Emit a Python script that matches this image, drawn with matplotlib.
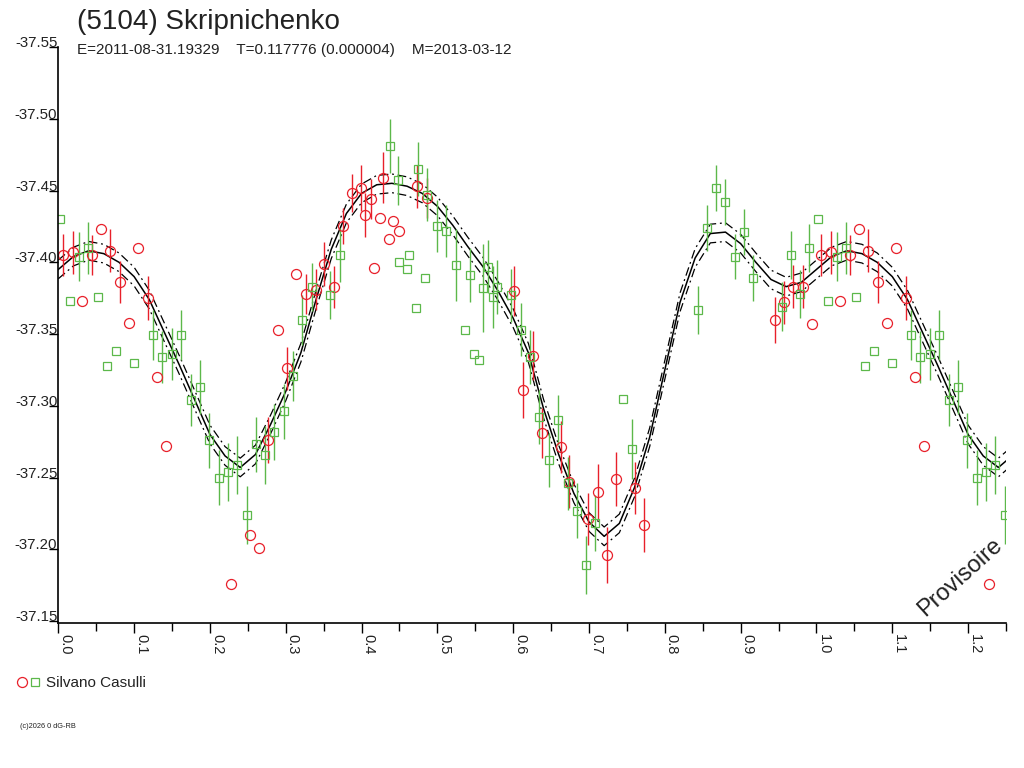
import numpy as np
import matplotlib.pyplot as plt
from matplotlib.legend_handler import HandlerTuple

plt.rcParams['font.family'] = ['Liberation Sans', 'DejaVu Sans']

# ============================================================
# DATA - phase folded observations (Silvano Casulli)
# ============================================================

TITLE = "(5104) Skripnichenko"
SUBTITLE = "E=2011-08-31.19329    T=0.117776 (0.000004)    M=2013-03-12"
OBSERVER = "Silvano Casulli"

# red circles
red_phase = [0.0066, 0.0198, 0.0440, 0.0563, 0.0682, 0.0814, 0.1047, 0.0316,
             0.1179, 0.0932, 0.1298, 0.1416, 0.2277, 0.2528, 0.2651, 0.2769,
             0.2893, 0.3139, 0.3020, 0.3267, 0.3394, 0.3508, 0.3636, 0.3750,
             0.3877, 0.3996, 0.4120, 0.4045, 0.4242, 0.4410, 0.4489, 0.4365,
             0.4167, 0.4286, 0.4734, 0.4858, 0.6006, 0.6256, 0.6132, 0.6375,
             0.6625, 0.6739, 0.6989, 0.7113, 0.7236, 0.7359, 0.7605, 0.7728,
             0.9451, 0.9574, 0.9693, 0.9817, 0.9943]
red_mag = [-37.405, -37.407, -37.405, -37.423, -37.408, -37.386, -37.410, -37.373,
           -37.375, -37.358, -37.320, -37.272, -37.176, -37.210, -37.201, -37.276,
           -37.353, -37.392, -37.326, -37.378, -37.381, -37.399, -37.383, -37.425,
           -37.448, -37.452, -37.444, -37.433, -37.431, -37.429, -37.422, -37.416,
           -37.396, -37.459, -37.453, -37.445, -37.380, -37.335, -37.311, -37.281,
           -37.271, -37.247, -37.221, -37.240, -37.196, -37.249, -37.243, -37.217,
           -37.360, -37.372, -37.383, -37.383, -37.357]
red_err = [0.0146, 0.0150, 0.0139, 0.0, 0.0151, 0.0146, 0.0, 0.0,
           0.0152, 0.0, 0.0, 0.0, 0.0, 0.0, 0.0, 0.0160,
           0.0, 0.0, 0.0151, 0.0139, 0.0146, 0.0153, 0.0146, 0.0125,
           0.0132, 0.0160, 0.0139, 0.0153, 0.0, 0.0, 0.0, 0.0,
           0.0, 0.0178, 0.0151, 0.0139, 0.0174, 0.0174, 0.0192, 0.0171,
           0.0181, 0.0186, 0.0181, 0.0195, 0.0195, 0.0188, 0.0181, 0.0186,
           0.0160, 0.0151, 0.0151, 0.0151, 0.0]

# green squares
green_phase = [0.0022, 0.0273, 0.0396, 0.0154, 0.0520, 0.1253, 0.1371, 0.1495,
               0.1618, 0.0761, 0.0638, 0.1002, 0.1746, 0.1869, 0.1991, 0.2115,
               0.2238, 0.2361, 0.2485, 0.2603, 0.2730, 0.2848, 0.2972, 0.3091,
               0.3210, 0.3342, 0.3583, 0.3715, 0.4378, 0.4747, 0.4476, 0.4866,
               0.4497, 0.4625, 0.4598, 0.4840, 0.4721, 0.4990, 0.5117, 0.5245,
               0.5425, 0.5363, 0.5486, 0.5548, 0.5605, 0.5671, 0.5729, 0.5789,
               0.5970, 0.6098, 0.6220, 0.6343, 0.6586, 0.6467, 0.6718, 0.6836,
               0.7078, 0.6959, 0.7443, 0.7570, 0.8432, 0.8551, 0.8673, 0.8796,
               0.9043, 0.8924, 0.9165, 0.9540, 0.9662, 0.9781, 0.9900]
green_mag = [-37.430, -37.404, -37.410, -37.373, -37.376, -37.349, -37.334, -37.336,
             -37.349, -37.338, -37.328, -37.330, -37.304, -37.313, -37.276, -37.250,
             -37.254, -37.259, -37.224, -37.273, -37.266, -37.282, -37.296, -37.321,
             -37.360, -37.383, -37.377, -37.405, -37.481, -37.465, -37.457, -37.447,
             -37.400, -37.405, -37.395, -37.389, -37.368, -37.425, -37.422, -37.398,
             -37.391, -37.353, -37.336, -37.332, -37.382, -37.397, -37.376, -37.383,
             -37.377, -37.353, -37.334, -37.292, -37.290, -37.262, -37.246, -37.227,
             -37.218, -37.189, -37.305, -37.270, -37.367, -37.424, -37.452, -37.442,
             -37.421, -37.404, -37.389, -37.369, -37.405, -37.378, -37.410]
green_err = [0.0, 0.0171, 0.0179, 0.0, 0.0, 0.0174, 0.0181, 0.0181,
             0.0174, 0.0, 0.0, 0.0, 0.0181, 0.0186, 0.0192, 0.0192,
             0.0202, 0.0202, 0.0202, 0.0195, 0.0202, 0.0195, 0.0192, 0.0174,
             0.0174, 0.0167, 0.0167, 0.0188, 0.0188, 0.0186, 0.0171, 0.0186,
             0.0, 0.0, 0.0, 0.0, 0.0, 0.0181, 0.0181, 0.0251,
             0.0186, 0.0, 0.0, 0.0, 0.0307, 0.0186, 0.0216, 0.0188,
             0.0186, 0.0183, 0.0185, 0.0188, 0.0174, 0.0188, 0.0186, 0.0192,
             0.0195, 0.0202, 0.0, 0.0209, 0.0167, 0.0162, 0.0160, 0.0162,
             0.0162, 0.0160, 0.0162, 0.0171, 0.0167, 0.0167, 0.0167]

# fitted lightcurve, one full rotation
curve_phase = [0.00, 0.02, 0.04, 0.06, 0.08, 0.10, 0.12, 0.14, 0.16, 0.18,
               0.20, 0.22, 0.24, 0.26, 0.28, 0.30, 0.32, 0.34, 0.36, 0.38,
               0.40, 0.42, 0.44, 0.46, 0.48, 0.50, 0.52, 0.54, 0.56, 0.58,
               0.60, 0.62, 0.64, 0.66, 0.68, 0.70, 0.72, 0.74, 0.76, 0.78,
               0.80, 0.82, 0.84, 0.86, 0.88, 0.90, 0.92, 0.94, 0.96, 0.98, 1.00]
curve_mag = [-37.395, -37.404, -37.408, -37.406, -37.400, -37.390, -37.374, -37.351,
             -37.328, -37.304, -37.280, -37.265, -37.257, -37.266, -37.287, -37.310,
             -37.337, -37.374, -37.409, -37.434, -37.448, -37.454, -37.455, -37.453,
             -37.448, -37.439, -37.426, -37.411, -37.397, -37.380, -37.361, -37.337,
             -37.298, -37.266, -37.239, -37.219, -37.209, -37.218, -37.243, -37.278,
             -37.325, -37.372, -37.403, -37.420, -37.421, -37.413, -37.400, -37.388,
             -37.383, -37.386, -37.395]
curve_band = 0.0065

PHASE_MAX = 1.25


def wrap(phase, *cols, limit=PHASE_MAX + 0.02):
    # repeat the start of the rotation after phase 1.0
    ph = np.asarray(phase)
    keep = ph + 1.0 <= limit
    out = [np.concatenate([ph, ph[keep] + 1.0])]
    for c in cols:
        c = np.asarray(c)
        out.append(np.concatenate([c, c[keep]]))
    return out


# ============================================================
# PLOT
# ============================================================

RED = '#e8202a'
GREEN = '#5cb84a'
TXT = '#222222'

fig = plt.figure(figsize=(10.24, 7.68), dpi=100)
ax = fig.add_axes([58.3 / 1024, (768 - 623.3) / 768,
                   (1006 - 58.3) / 1024, (623.3 - 47) / 768])

cph, cmag = wrap(curve_phase[:-1], curve_mag[:-1])
ax.plot(cph, cmag, color='black', lw=1.1)
ax.plot(cph, cmag - curve_band, color='black', lw=0.9, ls=(0, (7, 3, 1.5, 3)))
ax.plot(cph, cmag + curve_band, color='black', lw=0.9, ls=(0, (7, 3, 1.5, 3)))

rph, rmag, rerr = wrap(red_phase, red_mag, red_err, limit=PHASE_MAX)
gph, gmag, gerr = wrap(green_phase, green_mag, green_err, limit=PHASE_MAX)

ax.errorbar(rph, rmag, yerr=rerr, fmt='none', ecolor=RED, elinewidth=1.0)
ax.errorbar(gph, gmag, yerr=gerr, fmt='none', ecolor=GREEN, elinewidth=1.0)
h_red, = ax.plot(rph, rmag, 'o', ls='none', mfc='none', mec=RED, ms=7.2, mew=0.9)
h_green, = ax.plot(gph, gmag, 's', ls='none', mfc='none', mec=GREEN, ms=5.8, mew=0.9)

ax.set_xlim(0, PHASE_MAX)
ax.set_ylim(-37.1484, -37.55)

ax.spines['top'].set_visible(False)
ax.spines['right'].set_visible(False)
ax.spines['left'].set_linewidth(1.2)
ax.spines['bottom'].set_linewidth(1.2)

yt = [-37.55, -37.50, -37.45, -37.40, -37.35, -37.30, -37.25, -37.20, -37.15]
ax.set_yticks(yt)
ax.set_yticklabels([f"{v:.2f}" for v in yt])
ax.tick_params(axis='y', direction='out', length=6.5, width=1.0, pad=-5.8,
               labelsize=10.8, labelcolor=TXT)
for lab in ax.get_yticklabels():
    lab.set_verticalalignment('baseline')

xt = np.round(np.arange(0, 1.21, 0.1), 2)
ax.set_xticks(xt)
ax.set_xticklabels([f"{v:.1f}" for v in xt], rotation=270, ha='left', va='top')
ax.set_xticks(np.round(np.arange(0.05, 1.26, 0.1), 2), minor=True)
ax.tick_params(axis='x', which='major', direction='out', length=7.2, width=1.0,
               pad=0.5, labelsize=10.5, labelcolor=TXT)
ax.tick_params(axis='x', which='minor', direction='out', length=5.8, width=1.0)

fig.text(77 / 1024, 1 - 29 / 768, TITLE, fontsize=20, color=TXT, va='baseline')
fig.text(77 / 1024, 1 - 54 / 768, SUBTITLE, fontsize=11, color=TXT, va='baseline')
fig.text(960 / 1024, 1 - 577 / 768, "Provisoire", fontsize=17, color=TXT,
         rotation=42, ha='center', va='center')
fig.text(20 / 1024, 1 - 726 / 768, "(c)2026 0 dG-RB", fontsize=5.3, color=TXT,
         va='center')

fig.legend(handles=[(h_red, h_green)], labels=[OBSERVER],
           handler_map={tuple: HandlerTuple(ndivide=None, pad=0.2)},
           loc='center left', bbox_to_anchor=(17.3 / 1024, 1 - 683 / 768),
           frameon=False, borderpad=0, borderaxespad=0, handlelength=1.45,
           handletextpad=0.42, fontsize=11, labelcolor=TXT)

fig.savefig('out.png', dpi=100)
